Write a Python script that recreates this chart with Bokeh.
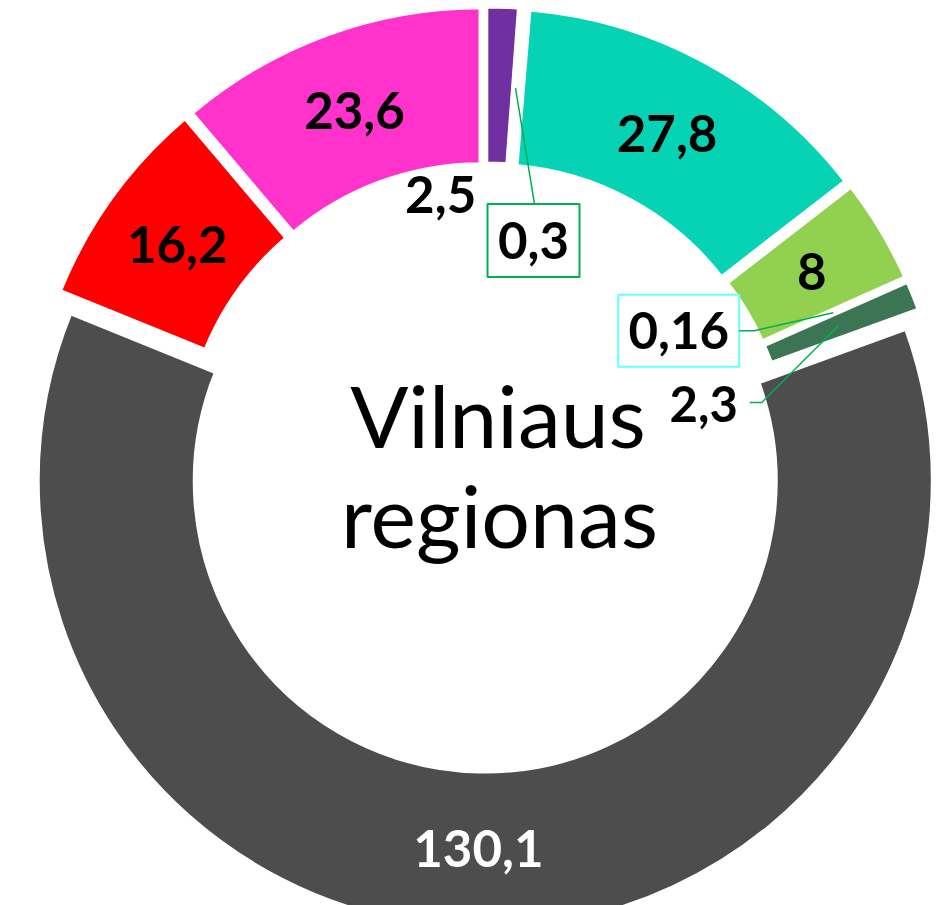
import math
from bokeh.plotting import figure
from bokeh.models import Range1d, ColumnDataSource
from bokeh.core.properties import value
from bokeh.embed import file_html
from bokeh.resources import INLINE

# ---------------- data ----------------
segments = ["Violetinė", "Žalia", "Turkio", "Šviesiai žalia", "Žydra",
            "Tamsiai žalia", "Pilka", "Raudona", "Rožinė"]
values = [2.5, 0.3, 27.8, 8, 0.16, 2.3, 130.1, 16.2, 23.6]
labels = ["2,5", "0,3", "27,8", "8", "0,16", "2,3", "130,1", "16,2", "23,6"]
colors = ["#7030A0", "#00B050", "#06D3B4", "#92D050", "#66FFFF",
          "#3C7553", "#4D4D4D", "#FF0000", "#FF33CC"]
center_title = ["Vilniaus", "regionas"]

# ---------------- styles / layout ----------------
W, H = 944, 905
FONT = "Lato"
CX, CY = 485.0, H - 467.0              # donut centre (data = screen px, y up)
GAP_W = 4.6                            # white separator stroke
R_OUT = 445.5 + GAP_W / 2
R_IN = 292.5 - GAP_W / 2
EXPLODE = 13.6
R_LABEL = 367.0
FS = 51

# label kind per slice index and offsets (screen px, y down) from anchor
label_style = {
    0: dict(kind="free", dx=-59, dy=107, fs=FS),
    1: dict(kind="box", dx=18, dy=152.5, bw=92, bh=73, border="#00B050", fs=FS),
    4: dict(kind="box", dx=-154.5, dy=18, bw=121, bh=72, border="#66FFFF", fs=FS),
    5: dict(kind="leader", dx=-135, dy=78.5, fs=49),
}
text_colors = {6: "white"}

p = figure(width=W, height=H, x_range=Range1d(0, W), y_range=Range1d(0, H),
           output_backend="svg", toolbar_location=None, min_border=0)
p.axis.visible = False
p.grid.visible = False
p.outline_line_color = None
p.background_fill_color = "white"
p.border_fill_color = "white"

total = sum(values)
cum = 0.0
wx, wy, sa, ea = [], [], [], []
anchors = []
for v in values:
    t1 = cum / total * 360.0
    cum += v
    t2 = cum / total * 360.0
    tm = math.radians((t1 + t2) / 2)
    cx = CX + EXPLODE * math.sin(tm)
    cy = CY + EXPLODE * math.cos(tm)
    wx.append(cx)
    wy.append(cy)
    sa.append(math.radians(90 - t2))
    ea.append(math.radians(90 - t1))
    anchors.append((cx + R_LABEL * math.sin(tm), cy + R_LABEL * math.cos(tm)))

src = ColumnDataSource(dict(x=wx, y=wy, start=sa, end=ea, color=colors, name=segments))
p.annular_wedge(x="x", y="y", inner_radius=R_IN, outer_radius=R_OUT,
                start_angle="start", end_angle="end", fill_color="color",
                line_color="white", line_width=GAP_W, source=src)

# inside labels
tx, ty, tt, tc = [], [], [], []
for i, lab in enumerate(labels):
    if i in label_style:
        continue
    ax, ay = anchors[i]
    tx.append(ax)
    ty.append(ay)
    tt.append(lab)
    tc.append(text_colors.get(i, "black"))
p.text(x=tx, y=ty, text=tt, text_color=tc, text_font=value(FONT),
       text_font_size=f"{FS}px", text_font_style="bold",
       text_align="center", text_baseline="middle")

# outside / leader labels
lxs, lys = [], []
for i, st in label_style.items():
    ax, ay = anchors[i]
    lx, ly = ax + st["dx"], ay - st["dy"]
    if st["kind"] == "box":
        p.rect(x=[lx], y=[ly], width=st["bw"], height=st["bh"], fill_color="white",
               line_color=st["border"], line_width=2)
        if abs(st["dx"]) < abs(st["dy"]):   # leader goes to top of box
            lxs.append([ax, lx + 1])
            lys.append([ay, ly + st["bh"] / 2])
        else:                                # leader goes to side of box
            ex = lx + st["bw"] / 2
            lxs.append([ax, ex + 15, ex])
            lys.append([ay, ly, ly])
    elif st["kind"] == "leader":
        ex = lx + 46
        lxs.append([ax, ex + 12, ex])
        lys.append([ay, ly + 1.5, ly + 1.5])
    p.text(x=[lx], y=[ly], text=[labels[i]], text_color="black",
           text_font=value(FONT), text_font_size=f"{st['fs']}px", text_font_style="bold",
           text_align="center", text_baseline="middle")

p.multi_line(xs=lxs, ys=lys, line_color="#00B050", line_width=1.5)

# centre title (cap-centre of each line)
p.text(x=[CX + 12.5, CX + 14], y=[CY + 22 + 31, CY - 78 + 31], text=center_title,
       text_color="black", text_font=value(FONT), text_font_size="86px",
       text_align="center", text_baseline="middle")

open("out.html", "w").write(file_html(p, INLINE))
